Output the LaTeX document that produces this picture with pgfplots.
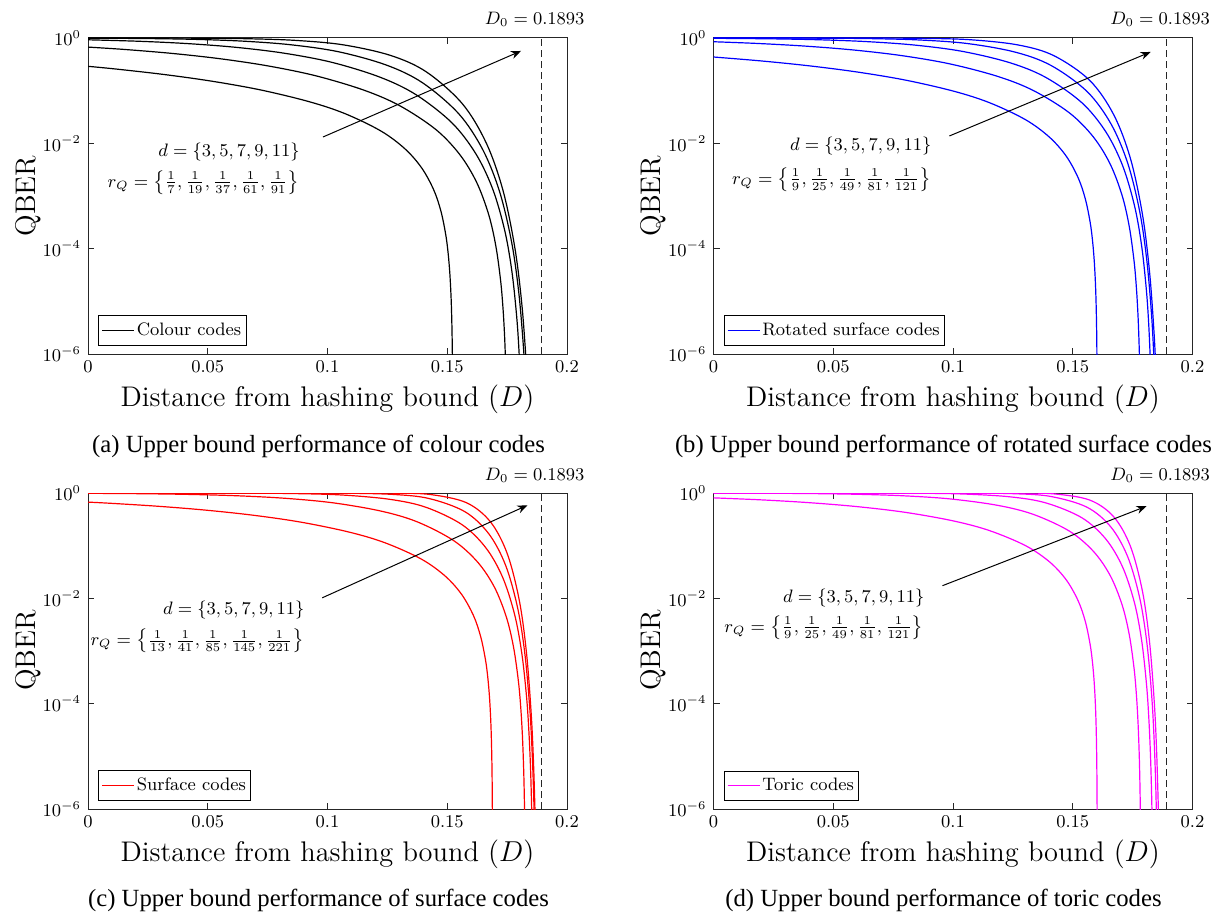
\documentclass[border=0pt]{standalone}
\usepackage{fontspec}
\usepackage{pgfplots}
\pgfplotsset{compat=1.18}
\usetikzlibrary{arrows.meta}
\newfontfamily\capfont{Liberation Serif}
\definecolor{magq}{rgb}{1,0,1}
\definecolor{blueq}{rgb}{0,0,1}
\definecolor{redq}{rgb}{1,0,0}

\pgfplotsset{
  legend image code/.code={\draw[#1, line width=0.6pt] (0pt,0pt) -- (16pt,0pt);},
  every axis/.append style={
    scale only axis, width=239.5pt, height=158pt,
    xmin=0, xmax=0.2, ymin=1e-6, ymax=1,
    xtick={0,0.05,0.1,0.15,0.2},
    xticklabels={$0$,$0.05$,$0.1$,$0.15$,$0.2$},
    ytick={1e-6,1e-4,1e-2,1},
    yticklabels={$10^{-6}$,$10^{-4}$,$10^{-2}$,$10^{0}$},
    yminorticks=false,
    tick label style={font=\fontsize{9}{10}\selectfont},
    axis line style={black!85, line width=0.5pt},
    major tick style={black!85, line width=0.5pt},
    major tick length=3pt,
    tick align=inside,
    legend cell align=left,
    legend style={at={(0.021,0.025)}, anchor=south west, draw=black, line width=0.5pt,
      font=\fontsize{9}{10}\selectfont, inner xsep=1.5pt, inner ysep=1pt,
      nodes={inner xsep=1pt, inner ysep=2.5pt}},
  },
  every axis plot/.append style={line width=0.6pt, smooth, tension=0.55},
}
\tikzset{
  annq/.style={anchor=east, font=\fontsize{9}{10}\selectfont, inner sep=0pt},
  arrq/.style={-{Stealth[length=5pt,width=4pt]}, line width=0.5pt, black},
  labq/.style={font=\fontsize{14.2}{16}\selectfont, inner sep=0pt},
  capq/.style={font=\capfont\fontsize{12.35}{14}\selectfont, inner sep=0pt},
  dzq/.style={anchor=base, font=\fontsize{9}{10}\selectfont, inner sep=0pt},
  dlq/.style={black!85, dash pattern=on 3.5pt off 2pt, line width=0.5pt},
}

\begin{document}
\begin{tikzpicture}
\useasboundingbox (0,0) rectangle (607pt,-457pt);

%% (a) colour codes
\begin{semilogyaxis}[at={(44pt,-177pt)}, anchor=south west]
\addplot[black] coordinates {(0,0.28999) (0.01235,0.25555) (0.03235,0.20120) (0.05235,0.14969) (0.07235,0.10261) (0.09235,0.06177) (0.10735,0.03656) (0.12235,0.017093) (0.13235,0.0078562) (0.13935,0.0033982) (0.14435,0.0013085) (0.14735,5.163e-4) (0.14935,1.871e-4) (0.15035,8.344e-5) (0.15105,3.526e-5) (0.15155,1.3387e-5) (0.15185,5.237e-6) (0.15205,1.89e-6) (0.15215,8.4e-7)};
\addlegendentry{Colour codes}
\addplot[black, forget plot] coordinates {(0,0.67205) (0.01526,0.60592) (0.03526,0.50890) (0.05526,0.40325) (0.07526,0.29456) (0.09526,0.19085) (0.11526,0.10206) (0.13026,0.05149) (0.14526,0.018257) (0.15526,0.006098) (0.16226,0.0018213) (0.16726,4.5071e-4) (0.17026,1.1404e-4) (0.17226,2.5235e-5) (0.17326,7.568e-6) (0.17396,2.0959e-6) (0.17446,4.898e-7)};
\addplot[black, forget plot] coordinates {(0,0.92447) (0.02202,0.86437) (0.04202,0.78057) (0.06202,0.66337) (0.08202,0.51355) (0.10202,0.34330) (0.12202,0.17965) (0.13702,0.08350) (0.15202,0.024336) (0.16202,0.0062432) (0.16902,0.0013392) (0.17402,2.1905e-4) (0.17702,3.6176e-5) (0.17902,4.941e-6) (0.18002,1.0023e-6) (0.18072,1.81e-7)};
\addplot[black, forget plot] coordinates {(0,0.99266) (0.02486,0.97560) (0.04486,0.94129) (0.06486,0.87063) (0.08486,0.74241) (0.10486,0.54483) (0.12486,0.30293) (0.13986,0.13941) (0.15486,0.036149) (0.16486,0.0075278) (0.17186,0.0012067) (0.17686,1.3428e-4) (0.17986,1.4725e-5) (0.18186,1.2561e-6) (0.18286,1.702e-7)};
\addplot[black, forget plot] coordinates {(0,0.99973) (0.02632,0.99792) (0.04632,0.99141) (0.06632,0.96883) (0.08632,0.90243) (0.10632,0.74478) (0.12632,0.46663) (0.14132,0.22650) (0.15632,0.056326) (0.16632,0.010057) (0.17332,0.0012537) (0.17832,9.7715e-5) (0.18132,7.239e-6) (0.18332,3.90e-7)};
\addplot[dlq, forget plot, sharp plot] coordinates {(0.1893,1e-6) (0.1893,1)};
\node[annq] at (axis cs:0.0885,0.006918) {$d=\{3,5,7,9,11\}$};
\node[annq] at (axis cs:0.0885,0.001778) {$r_Q=\left\{\frac{1}{7}{,}\,\frac{1}{19}{,}\,\frac{1}{37}{,}\,\frac{1}{61}{,}\,\frac{1}{91}\right\}$};
\draw[arrq] (axis cs:0.0981,0.01318) -- (axis cs:0.1808,0.5675);
\coordinate (d0a) at (axis cs:0.1865,1);
\end{semilogyaxis}
\node[dzq] at ([yshift=6.5pt]d0a) {$D_0=0.1893$};

%% (b) rotated surface codes
\begin{semilogyaxis}[at={(356.75pt,-177pt)}, anchor=south west]
\addplot[blueq] coordinates {(0,0.43570) (0.02025,0.36566) (0.04025,0.29511) (0.06025,0.22516) (0.08025,0.15832) (0.10025,0.09784) (0.11525,0.059049) (0.13025,0.028158) (0.14025,0.013115) (0.14725,0.0057255) (0.15225,0.0022195) (0.15525,8.7922e-4) (0.15725,3.1949e-4) (0.15825,1.4266e-4) (0.15895,6.047e-5) (0.15945,2.2954e-5) (0.15975,8.979e-6) (0.15995,3.236e-6) (0.16005,1.438e-6) (0.16015,3.6e-7)};
\addlegendentry{Rotated surface codes}
\addplot[blueq, forget plot] coordinates {(0,0.84923) (0.01858,0.78704) (0.03858,0.70003) (0.05858,0.59118) (0.07858,0.46291) (0.09858,0.32317) (0.11858,0.18710) (0.13358,0.10044) (0.14858,0.037960) (0.15858,0.013244) (0.16558,0.0040794) (0.17058,0.0010321) (0.17358,2.6475e-4) (0.17558,5.9098e-5) (0.17658,1.7801e-5) (0.17728,4.946e-6) (0.17778,1.1621e-6) (0.17808,2.8436e-7)};
\addplot[blueq, forget plot] coordinates {(0,0.98656) (0.02379,0.96486) (0.04379,0.92617) (0.06379,0.85480) (0.08379,0.73524) (0.10379,0.55842) (0.12379,0.33882) (0.13879,0.17794) (0.15379,0.059085) (0.16379,0.016595) (0.17079,0.0037982) (0.17579,6.5121e-4) (0.17879,1.1064e-4) (0.18079,1.5405e-5) (0.18179,3.1544e-6) (0.18249,5.774e-7)};
\addplot[blueq, forget plot] coordinates {(0,0.99967) (0.02595,0.99786) (0.04595,0.99190) (0.06595,0.97248) (0.08595,0.91730) (0.10595,0.78568) (0.12595,0.53940) (0.14095,0.30056) (0.15595,0.096589) (0.16595,0.023446) (0.17295,0.0041904) (0.17795,5.0688e-4) (0.18095,5.8372e-5) (0.18295,5.151e-6) (0.18395,7.22e-7)};
\addplot[blueq, forget plot] coordinates {(0,0.999998) (0.02705,0.99996) (0.04705,0.99964) (0.06705,0.99747) (0.08705,0.98501) (0.10705,0.92817) (0.12705,0.73950) (0.14205,0.46339) (0.15705,0.15713) (0.16705,0.035294) (0.17405,0.0052108) (0.17905,4.5980e-4) (0.18205,3.6728e-5) (0.18405,2.0854e-6) (0.18505,2.018e-7)};
\addplot[dlq, forget plot, sharp plot] coordinates {(0.1893,1e-6) (0.1893,1)};
\node[annq] at (axis cs:0.0911,0.00871) {$d=\{3,5,7,9,11\}$};
\node[annq] at (axis cs:0.0911,0.00204) {$r_Q=\left\{\frac{1}{9}{,}\,\frac{1}{25}{,}\,\frac{1}{49}{,}\,\frac{1}{81}{,}\,\frac{1}{121}\right\}$};
\draw[arrq] (axis cs:0.0985,0.0138) -- (axis cs:0.1825,0.543);
\coordinate (d0b) at (axis cs:0.1865,1);
\end{semilogyaxis}
\node[dzq] at ([yshift=6.5pt]d0b) {$D_0=0.1893$};

%% (c) surface codes
\begin{semilogyaxis}[at={(44pt,-404.5pt)}, anchor=south west]
\addplot[redq] coordinates {(0,0.67146) (0.00895,0.63964) (0.02895,0.56135) (0.04895,0.47376) (0.06895,0.37866) (0.08895,0.27938) (0.10895,0.18141) (0.12395,0.11374) (0.13895,0.056372) (0.14895,0.026951) (0.15595,0.011985) (0.16095,0.0047077) (0.16395,0.0018798) (0.16595,6.8675e-4) (0.16695,3.0745e-4) (0.16765,1.3057e-4) (0.16815,4.9627e-5) (0.16845,1.9428e-5) (0.16865,7.004e-6) (0.16875,3.1131e-6) (0.16885,7.8e-7)};
\addlegendentry{Surface codes}
\addplot[redq, forget plot] coordinates {(0,0.98694) (0.02272,0.96969) (0.04272,0.93935) (0.06272,0.88439) (0.08272,0.79143) (0.10272,0.64736) (0.12272,0.44954) (0.13772,0.28044) (0.15272,0.12445) (0.16272,0.048567) (0.16972,0.016216) (0.17472,0.0043497) (0.17772,0.0011559) (0.17972,2.6427e-4) (0.18072,8.0559e-5) (0.18142,2.2566e-5) (0.18192,5.3347e-6) (0.18222,1.3136e-6) (0.18242,2.8455e-7)};
\addplot[redq, forget plot] coordinates {(0,0.99997) (0.02611,0.99970) (0.04611,0.99855) (0.06611,0.99371) (0.08611,0.97549) (0.10611,0.91617) (0.12611,0.75746) (0.14111,0.53549) (0.15611,0.25165) (0.16611,0.091214) (0.17311,0.025191) (0.17811,0.0049590) (0.18111,9.1669e-4) (0.18311,1.3510e-4) (0.18411,2.8465e-5) (0.18481,5.3163e-6) (0.18531,7.874e-7)};
\addplot[redq, forget plot] coordinates {(0,1.0) (0.04742,0.999995) (0.06742,0.99993) (0.08742,0.99918) (0.10742,0.99197) (0.12742,0.93965) (0.14242,0.78553) (0.15742,0.44023) (0.16742,0.16640) (0.17442,0.041767) (0.17942,0.0064853) (0.18242,8.7216e-4) (0.18442,8.5406e-5) (0.18542,1.2630e-5) (0.18612,1.5898e-6) (0.18662,1.487e-7)};
\addplot[redq, forget plot] coordinates {(0,1.0) (0.08806,1.0) (0.10806,0.99972) (0.12806,0.99237) (0.14306,0.93515) (0.15806,0.65307) (0.16806,0.28246) (0.17506,0.070370) (0.18006,0.0092520) (0.18306,9.4659e-4) (0.18506,6.3537e-5) (0.18606,6.6965e-6) (0.18676,5.742e-7)};
\addplot[dlq, forget plot, sharp plot] coordinates {(0.1893,1e-6) (0.1893,1)};
\node[annq] at (axis cs:0.0905,0.00589) {$d=\{3,5,7,9,11\}$};
\node[annq] at (axis cs:0.0905,0.00155) {$r_Q=\left\{\frac{1}{13}{,}\,\frac{1}{41}{,}\,\frac{1}{85}{,}\,\frac{1}{145}{,}\,\frac{1}{221}\right\}$};
\draw[arrq] (axis cs:0.0978,0.01023) -- (axis cs:0.1835,0.585);
\coordinate (d0c) at (axis cs:0.1865,1);
\end{semilogyaxis}
\node[dzq] at ([yshift=6.5pt]d0c) {$D_0=0.1893$};

%% (d) toric codes
\begin{semilogyaxis}[at={(356.75pt,-404.5pt)}, anchor=south west]
\addplot[magq] coordinates {(0,0.80876) (0.02025,0.73975) (0.04025,0.65400) (0.06025,0.54972) (0.08025,0.42812) (0.10025,0.29445) (0.11525,0.19314) (0.13025,0.10030) (0.14025,0.049506) (0.14725,0.022522) (0.15225,0.0089929) (0.15525,0.0036266) (0.15725,0.0013337) (0.15825,5.9909e-4) (0.15895,2.5500e-4) (0.15945,9.7087e-5) (0.15975,3.8046e-5) (0.15995,1.3726e-5) (0.16005,6.107e-6) (0.16015,1.5276e-6) (0.1602,3.825e-7)};
\addlegendentry{Toric codes}
\addplot[magq, forget plot] coordinates {(0,0.99627) (0.01858,0.99100) (0.03858,0.97792) (0.05858,0.94873) (0.07858,0.88828) (0.09858,0.77403) (0.11858,0.58375) (0.13358,0.39217) (0.14858,0.18920) (0.15858,0.078431) (0.16558,0.027368) (0.17058,0.0075832) (0.17358,0.0020556) (0.17558,4.7620e-4) (0.17658,1.4614e-4) (0.17728,4.1128e-5) (0.17778,9.7556e-6) (0.17808,2.4071e-6) (0.17828,5.236e-7)};
\addplot[magq, forget plot] coordinates {(0,0.999995) (0.02379,0.99995) (0.04379,0.99970) (0.06379,0.99823) (0.08379,0.99084) (0.10379,0.95889) (0.12379,0.84610) (0.13879,0.64794) (0.15379,0.33910) (0.16379,0.13386) (0.17079,0.039457) (0.17579,0.0081555) (0.17879,0.0015536) (0.18079,2.3366e-4) (0.18179,4.9742e-5) (0.18249,9.3586e-6) (0.18299,1.3930e-6) (0.18329,2.174e-7)};
\addplot[magq, forget plot] coordinates {(0,1.0) (0.04595,0.9999994) (0.06595,0.99999) (0.08595,0.99979) (0.10595,0.99707) (0.12595,0.96878) (0.14095,0.85789) (0.15595,0.53697) (0.16595,0.22518) (0.17295,0.061486) (0.17795,0.010187) (0.18095,0.0014265) (0.18295,1.4363e-4) (0.18395,2.1535e-5) (0.18465,2.7374e-6) (0.18515,2.578e-7)};
\addplot[magq, forget plot] coordinates {(0,1.0) (0.08705,1.0) (0.10705,0.99993) (0.12705,0.99683) (0.14205,0.96308) (0.15705,0.73532) (0.16705,0.35569) (0.17405,0.098012) (0.17905,0.013963) (0.18205,0.0015031) (0.18405,1.0447e-4) (0.18505,1.1206e-5) (0.18575,9.730e-7)};
\addplot[dlq, forget plot, sharp plot] coordinates {(0.1893,1e-6) (0.1893,1)};
\node[annq] at (axis cs:0.0882,0.0102) {$d=\{3,5,7,9,11\}$};
\node[annq] at (axis cs:0.0879,0.00275) {$r_Q=\left\{\frac{1}{9}{,}\,\frac{1}{25}{,}\,\frac{1}{49}{,}\,\frac{1}{81}{,}\,\frac{1}{121}\right\}$};
\draw[arrq] (axis cs:0.0956,0.01738) -- (axis cs:0.1808,0.562);
\coordinate (d0d) at (axis cs:0.1865,1);
\end{semilogyaxis}
\node[dzq] at ([yshift=6.5pt]d0d) {$D_0=0.1893$};

%% axis labels
\node[labq] at (163.75pt,-199.5pt) {Distance from hashing bound $(D)$};
\node[labq] at (476.5pt,-199.5pt) {Distance from hashing bound $(D)$};
\node[labq] at (163.75pt,-427pt) {Distance from hashing bound $(D)$};
\node[labq] at (476.5pt,-427pt) {Distance from hashing bound $(D)$};
\node[labq, rotate=90] at (14pt,-98pt) {QBER};
\node[labq, rotate=90] at (326.75pt,-98pt) {QBER};
\node[labq, rotate=90] at (14pt,-325.25pt) {QBER};
\node[labq, rotate=90] at (326.75pt,-325.25pt) {QBER};
%% captions
\node[capq] at (159.25pt,-223pt) {(a) Upper bound performance of colour codes};
\node[capq] at (471.75pt,-223pt) {(b) Upper bound performance of rotated surface codes};
\node[capq] at (159.25pt,-450pt) {(c) Upper bound performance of surface codes};
\node[capq] at (471.75pt,-450pt) {(d) Upper bound performance of toric codes};
\end{tikzpicture}
\end{document}
